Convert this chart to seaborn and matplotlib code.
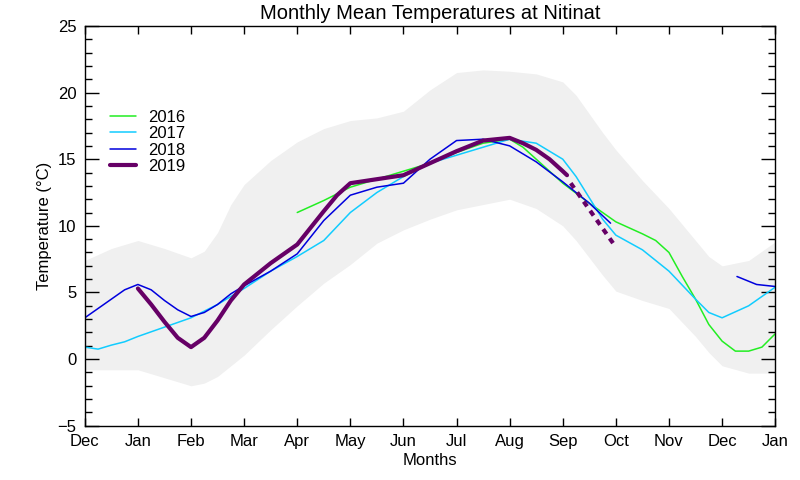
import numpy as np
import pandas as pd
import matplotlib
matplotlib.use("Agg")
import matplotlib.pyplot as plt
import seaborn as sns

# Month axis: 0 = Dec (previous year) ... 13 = Jan (next year)
month_labels = ["Dec", "Jan", "Feb", "Mar", "Apr", "May", "Jun",
                "Jul", "Aug", "Sep", "Oct", "Nov", "Dec", "Jan"]

# climatology range (grey band)
band_x = [0, 0.5, 1, 1.5, 2, 2.25, 2.5, 2.75, 3, 3.5, 4, 4.5, 5, 5.5, 6, 6.5, 7, 7.5, 8,
          8.5, 9, 9.25, 9.5, 9.75, 10, 10.5, 11, 11.5, 11.75, 12, 12.5, 13]
band_hi = [7.4, 8.3, 8.9, 8.3, 7.6, 8.1, 9.5, 11.6, 13.1, 14.9, 16.3, 17.3, 17.9, 18.1,
           18.6, 20.2, 21.5, 21.7, 21.6, 21.4, 20.8, 19.8, 18.4, 17.0, 15.7, 13.4, 11.3,
           8.9, 7.7, 7.0, 7.4, 8.8]
band_lo = [-0.8, -0.8, -0.8, -1.4, -2.0, -1.8, -1.3, -0.5, 0.3, 2.2, 4.0, 5.7, 7.1, 8.7,
           9.7, 10.5, 11.2, 11.6, 12.0, 11.3, 10.0, 8.9, 7.6, 6.3, 5.1, 4.4, 3.8, 1.7,
           0.5, -0.5, -1.05, -1.05]

# 2016
x2016 = [4, 4.5, 5, 5.5, 6, 6.5, 7, 7.5, 8, 8.25, 8.5, 8.75, 9, 9.5, 10, 10.5, 10.75,
         11, 11.25, 11.5, 11.75, 12, 12.25, 12.5, 12.75, 13]
t2016 = [11.0, 11.9, 12.9, 13.5, 14.1, 14.7, 15.5, 16.2, 16.5, 15.9, 15.0, 14.1, 13.2,
         11.7, 10.3, 9.4, 8.9, 8.0, 6.2, 4.5, 2.6, 1.35, 0.6, 0.6, 0.9, 1.9]

# 2017
x2017 = [0, 0.25, 0.5, 0.75, 1, 1.5, 2, 2.5, 3, 3.5, 4, 4.5, 5, 5.5, 6, 6.5, 7, 7.5, 8,
         8.5, 9, 9.25, 9.5, 9.75, 10, 10.5, 11, 11.5, 11.75, 12, 12.5, 13]
t2017 = [0.9, 0.75, 1.05, 1.3, 1.7, 2.4, 3.1, 4.1, 5.3, 6.6, 7.7, 8.9, 11.0, 12.5, 13.7,
         14.7, 15.3, 15.9, 16.5, 16.2, 15.0, 13.7, 12.1, 10.5, 9.3, 8.2, 6.6, 4.5, 3.5,
         3.1, 4.0, 5.4]

# 2018 (main segment and the Dec-Jan piece)
x2018 = [0, 0.25, 0.5, 0.75, 1, 1.25, 1.5, 1.75, 2, 2.25, 2.5, 2.75, 3, 3.5, 4, 4.5, 5,
         5.5, 6, 6.5, 7, 7.5, 8, 8.5, 9, 9.5, 9.9]
t2018 = [3.1, 3.8, 4.5, 5.2, 5.6, 5.2, 4.4, 3.7, 3.2, 3.5, 4.1, 4.9, 5.5, 6.6, 7.9,
         10.4, 12.3, 12.9, 13.2, 15.0, 16.4, 16.5, 16.0, 14.8, 13.3, 11.7, 10.2]
x2018b = [12.28, 12.65, 13]
t2018b = [6.2, 5.6, 5.45]

# 2019 (solid observations and dashed projection)
x2019 = [1, 1.25, 1.5, 1.75, 2, 2.25, 2.5, 2.75, 3, 3.5, 4, 4.5, 4.75, 5, 5.5, 6, 6.5,
         7, 7.5, 8, 8.25, 8.5, 8.75, 9, 9.08]
t2019 = [5.3, 4.1, 2.8, 1.6, 0.9, 1.6, 2.9, 4.4, 5.6, 7.2, 8.6, 11.1, 12.3, 13.2, 13.5,
         13.8, 14.7, 15.6, 16.4, 16.6, 16.2, 15.7, 15.0, 14.1, 13.8]
x2019d = [9.15, 10.0]
t2019d = [13.2, 8.4]

colors = {"2016": "#22EE22", "2017": "#11CCFF", "2018": "#0000DD", "2019": "#660066"}

sns.set_style("ticks", {"text.color": "black", "axes.labelcolor": "black",
                        "xtick.color": "black", "ytick.color": "black"})
plt.rcParams["font.family"] = ["Liberation Sans", "DejaVu Sans"]

fig = plt.figure(figsize=(8, 4.8), dpi=100)
ax = fig.add_axes([0.106, 0.113, 0.863, 0.833])

ax.fill_between(band_x, band_lo, band_hi, color="#F0F0F0", lw=0, zorder=0)

def draw(x, t, col, lw, label=None, ls="-"):
    df = pd.DataFrame({"m": x, "t": t})
    sns.lineplot(data=df, x="m", y="t", ax=ax, color=col, lw=lw, ls=ls,
                 estimator=None, sort=False, label=label, legend=False)

draw(x2016, t2016, colors["2016"], 1.1, "2016")
draw(x2017, t2017, colors["2017"], 1.1, "2017")
draw(x2018, t2018, colors["2018"], 1.1, "2018")
draw(x2018b, t2018b, colors["2018"], 1.1)
draw(x2019, t2019, colors["2019"], 3.0, "2019")
draw(x2019d, t2019d, colors["2019"], 3.0, ls=(0, (1.4, 1.3)))

ax.set_xlim(0, 13)
ax.set_ylim(-5, 25)
ax.set_xticks(range(14))
ax.set_xticklabels(month_labels)
ax.set_yticks(range(-5, 26, 5))
ax.set_yticklabels(["\u22125", "0", "5", "10", "15", "20", "25"])
ax.set_yticks(range(-5, 26), minor=True)
ax.tick_params(axis="both", which="both", direction="in", top=True, right=True,
               labelsize=12, width=1.0, color="black", pad=6)
ax.tick_params(axis="y", which="major", length=10)
ax.tick_params(axis="y", which="minor", length=5)
ax.tick_params(axis="x", which="major", length=6)
for s in ax.spines.values():
    s.set_linewidth(1.0)
    s.set_color("black")

ax.set_xlabel("Months", fontsize=12, labelpad=3)
ax.set_ylabel("Temperature (\u00b0C)", fontsize=12, labelpad=4)
ax.set_title("Monthly Mean Temperatures at Nitinat", fontsize=14.5, pad=5)

handles, labels = ax.get_legend_handles_labels()
ax.legend(handles, labels, loc="upper left", bbox_to_anchor=(0.036, 0.79), frameon=False,
          fontsize=12, handlelength=1.6, handletextpad=0.7, labelspacing=0.08,
          borderaxespad=0, borderpad=0)

fig.savefig("out.png", dpi=100)
